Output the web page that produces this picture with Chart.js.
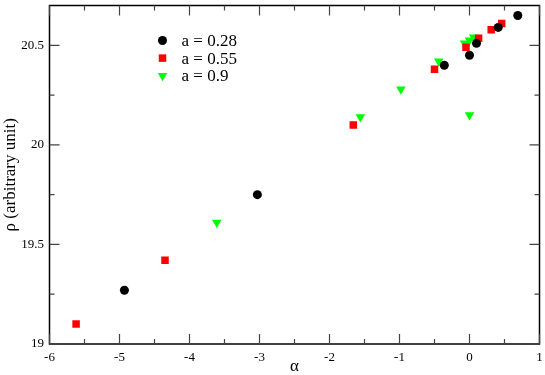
<!DOCTYPE html>
<html>
<head>
<meta charset="utf-8">
<script src="https://cdn.jsdelivr.net/npm/chart.js@4"></script>
<style>
html, body { margin: 0; padding: 0; background: #fff; }
</style>
</head>
<body>
<canvas id="chart" width="545" height="375"></canvas>
<script>
// values
var alpha028 = [-4.93, -3.03, -0.36, 0.00, 0.10, 0.41, 0.69];
var rho028   = [19.27, 19.75, 20.40, 20.45, 20.51, 20.59, 20.65];

var alpha055 = [-5.62, -4.35, -1.66, -0.50, -0.05, 0.13, 0.31, 0.46];
var rho055   = [19.10, 19.42, 20.10, 20.38, 20.49, 20.535, 20.578, 20.61];

var alpha09 = [-3.61, -1.56, -0.98, -0.44, 0.00, -0.07, 0.00, 0.06];
var rho09   = [19.61, 20.14, 20.28, 20.42, 20.15, 20.51, 20.525, 20.54];

var xTicks = [-6, -5, -4, -3, -2, -1, 0, 1];
var xMinor = [-5.5, -4.5, -3.5, -2.5, -1.5, -0.5, 0.5];
var yTicks = [19, 19.5, 20, 20.5];
var yTickLabels = ['19', '19.5', '20', '20.5'];
var yMinor = [19.25, 19.75, 20.25];

function pts(xs, ys) {
    return xs.map(function (x, i) { return { x: x, y: ys[i] }; });
}

var serif = '"Liberation Serif", "DejaVu Serif", serif';

var data = {
    datasets: [{
        label: 'a = 0.28',
        data: pts(alpha028, rho028),
        pointStyle: 'circle',
        pointRadius: 4.5,
        backgroundColor: '#000000',
        borderColor: '#000000',
        borderWidth: 0
    }, {
        label: 'a = 0.55',
        data: pts(alpha055, rho055),
        pointStyle: 'rect',
        pointRadius: 5.3,
        backgroundColor: '#ff0000',
        borderColor: '#ff0000',
        borderWidth: 0
    }, {
        label: 'a = 0.9',
        data: pts(alpha09, rho09),
        pointStyle: 'triangle',
        pointRotation: 180,
        pointRadius: 5.5,
        backgroundColor: '#00ff00',
        borderColor: '#00ff00',
        borderWidth: 0
    }]
};

// frame + inward ticks on all four sides, legend inside the plot
var framePlugin = {
    id: 'frame',
    afterDraw: function (chart) {
        var ctx = chart.ctx, a = chart.chartArea;
        var xs = chart.scales.x, ys = chart.scales.y;
        ctx.save();
        ctx.strokeStyle = '#000';
        ctx.lineWidth = 1.5;
        ctx.strokeRect(a.left, a.top, a.right - a.left, a.bottom - a.top);
        ctx.lineWidth = 1.2;
        ctx.strokeStyle = '#444';
        function xt(v, len) {
            var p = xs.getPixelForValue(v);
            ctx.beginPath();
            ctx.moveTo(p, a.bottom); ctx.lineTo(p, a.bottom - len);
            ctx.moveTo(p, a.top); ctx.lineTo(p, a.top + len);
            ctx.stroke();
        }
        function yt(v, len) {
            var p = ys.getPixelForValue(v);
            ctx.beginPath();
            ctx.moveTo(a.left, p); ctx.lineTo(a.left + len, p);
            ctx.moveTo(a.right, p); ctx.lineTo(a.right - len, p);
            ctx.stroke();
        }
        xTicks.forEach(function (v) { xt(v, 10); });
        xMinor.forEach(function (v) { xt(v, 5); });
        yTicks.forEach(function (v) { yt(v, 10); });
        yMinor.forEach(function (v) { yt(v, 5); });

        // legend
        ctx.font = '17px ' + serif;
        ctx.textBaseline = 'middle';
        chart.data.datasets.forEach(function (ds, i) {
            var y = a.top + 35 + i * 17.6;
            var mx = a.left + 113;
            ctx.fillStyle = ds.backgroundColor;
            ctx.strokeStyle = ds.borderColor;
            Chart.helpers.drawPoint(ctx, {
                pointStyle: ds.pointStyle,
                radius: ds.pointRadius,
                rotation: ds.pointRotation || 0,
                borderWidth: 0
            }, mx, y);
            ctx.fillStyle = '#000';
            ctx.fillText(ds.label, a.left + 132, y + 1);
        });
        ctx.restore();
    }
};

var options = {
    responsive: false,
    animation: false,
    layout: { padding: { top: 1, right: 5, left: 0, bottom: 0 } },
    scales: {
        x: {
            type: 'linear',
            min: -6,
            max: 1,
            grid: { display: false, drawTicks: false },
            border: { display: false },
            afterBuildTicks: function (scale) {
                scale.ticks = xTicks.map(function (v) { return { value: v }; });
            },
            afterFit: function (scale) {
                scale.height = 31;
                scale.paddingLeft = 0;
                scale.paddingRight = 0;
            },
            ticks: {
                color: '#000',
                padding: 6,
                maxRotation: 0,
                font: { family: serif, size: 13 },
                callback: function (v) { return String(v); }
            },
            title: {
                display: true,
                text: 'α',
                color: '#000',
                padding: 0,
                font: { family: serif, size: 17, lineHeight: 1 }
            }
        },
        y: {
            type: 'linear',
            min: 19,
            max: 20.7,
            grid: { display: false, drawTicks: false },
            border: { display: false },
            afterBuildTicks: function (scale) {
                scale.ticks = yTicks.map(function (v) { return { value: v }; });
            },
            afterFit: function (scale) {
                scale.width = 49.5;
                scale.paddingTop = 0;
                scale.paddingBottom = 0;
            },
            ticks: {
                color: '#000',
                padding: 5.5,
                font: { family: serif, size: 13 },
                callback: function (v) { return yTickLabels[yTicks.indexOf(v)]; }
            },
            title: {
                display: true,
                text: 'ρ (arbitrary unit)',
                color: '#000',
                padding: { top: 2.5, bottom: 0 },
                font: { family: serif, size: 17, lineHeight: 1 }
            }
        }
    },
    plugins: {
        legend: { display: false },
        tooltip: { enabled: false }
    }
};

var ctx = document.getElementById('chart').getContext('2d');
var chart = new Chart(ctx, {
    type: 'scatter',
    data: data,
    options: options,
    plugins: [framePlugin]
});
</script>
</body>
</html>
